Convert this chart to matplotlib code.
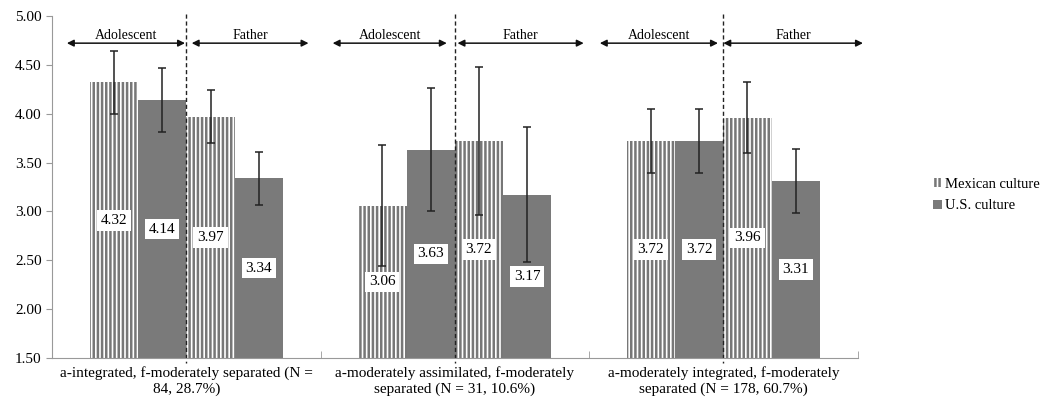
import matplotlib.pyplot as plt
import numpy as np
from matplotlib.patches import Patch

plt.rcParams["font.family"] = ["Liberation Serif", "DejaVu Serif"]
plt.rcParams["hatch.color"] = "#777777"
plt.rcParams["hatch.linewidth"] = 1.8

categories = [
    "a-integrated, f-moderately separated (N =\n84, 28.7%)",
    "a-moderately assimilated, f-moderately\nseparated (N = 31, 10.6%)",
    "a-moderately integrated, f-moderately\nseparated (N = 178, 60.7%)",
]

# order within a group: adolescent Mexican, adolescent U.S., father Mexican, father U.S.
adol_mex = [4.32, 3.06, 3.72]
adol_us = [4.14, 3.63, 3.72]
fath_mex = [3.97, 3.72, 3.96]
fath_us = [3.34, 3.17, 3.31]

adol_mex_err = [0.32, 0.62, 0.33]
adol_us_err = [0.33, 0.63, 0.33]
fath_mex_err = [0.27, 0.76, 0.36]
fath_us_err = [0.27, 0.69, 0.33]

side_labels = ["Adolescent", "Father"]

x = np.arange(len(categories))
w = 0.18
base = 1.5
gray = "#7a7a7a"

fig = plt.figure(figsize=(10.42, 4.15), dpi=100)
ax = fig.add_axes([0.050, 0.137, 0.773, 0.825])

series = [
    (adol_mex, adol_mex_err, -1.5, True),
    (adol_us, adol_us_err, -0.5, False),
    (fath_mex, fath_mex_err, 0.5, True),
    (fath_us, fath_us_err, 1.5, False),
]

for vals, errs, off, hatched in series:
    heights = [v - base for v in vals]
    if hatched:
        ax.bar(x + off * w, heights, w, bottom=base, color="white",
               hatch="||||", edgecolor="#777777", linewidth=0)
    else:
        ax.bar(x + off * w, heights, w, bottom=base, color=gray, linewidth=0)
    ax.errorbar(x + off * w, vals, yerr=errs, fmt="none", ecolor="#222222",
                elinewidth=1.1, capsize=3, capthick=1.1)
    for xi, v in zip(x + off * w, vals):
        ax.text(xi, base + (v - base) / 2, f"{v:.2f}", ha="center", va="center",
                fontsize=11,
                bbox=dict(boxstyle="square,pad=0.25", fc="white", ec="none"))

# dashed separator between adolescent and father, plus arrows
arrow_spans = [
    [(-0.445, -0.005), (0.02, 0.455)],
    [(-0.455, -0.03), (0.01, 0.48)],
    [(-0.46, -0.02), (0.0, 0.52)],
]
for xi, spans in zip(x, arrow_spans):
    ax.plot([xi, xi], [5.02, 1.45], ls=(0, (3, 2)), color="#222222", lw=1.0,
            clip_on=False)
    for (a, b), lab in zip(spans, side_labels):
        ax.annotate("", xy=(xi + a, 4.72), xytext=(xi + b, 4.72),
                    arrowprops=dict(arrowstyle="<|-|>", color="#111111", lw=1.1,
                                    mutation_scale=10, shrinkA=0, shrinkB=0),
                    annotation_clip=False)
        ax.text(xi + (a + b) / 2, 4.80, lab, ha="center", va="center",
                fontsize=10)

ax.set_xlim(-0.5, 2.5)
ax.set_ylim(1.5, 5.0)
ax.set_yticks(np.arange(1.5, 5.01, 0.5))
ax.set_yticklabels([f"{t:.2f}" for t in np.arange(1.5, 5.01, 0.5)], fontsize=11)
ax.set_xticks(x)
ax.set_xticklabels(categories, fontsize=11)
ax.tick_params(axis="x", length=0, pad=6)
ax.set_xticks([-0.5, 0.5, 1.5, 2.5], minor=True)
ax.tick_params(axis="x", which="minor", length=5, direction="in", color="#999999")
ax.tick_params(axis="y", length=4, color="#999999")

for s in ["top", "right"]:
    ax.spines[s].set_visible(False)
ax.spines["left"].set_color("#999999")
ax.spines["bottom"].set_color("#999999")

handles = [
    Patch(facecolor="white", hatch="||||", edgecolor="#777777", linewidth=0,
          label="Mexican culture"),
    Patch(facecolor=gray, label="U.S. culture"),
]
fig.legend(handles=handles, loc="center left", bbox_to_anchor=(0.883, 0.53),
           frameon=False, fontsize=10.5, handlelength=0.6, handleheight=0.6,
           handletextpad=0.2, labelspacing=0.6)

fig.savefig("out.png", dpi=100)
